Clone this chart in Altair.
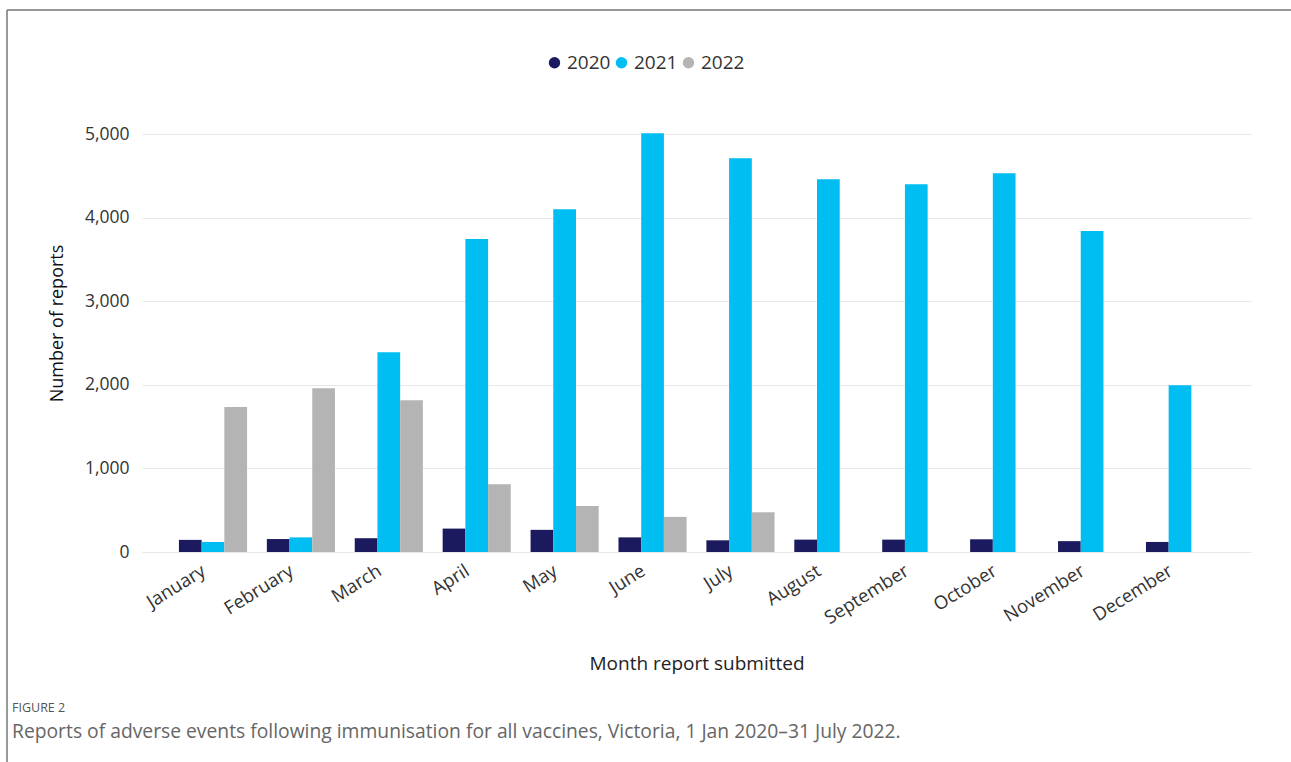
import altair as alt
import pandas as pd

months = ["January", "February", "March", "April", "May", "June", "July",
          "August", "September", "October", "November", "December"]
years = ["2020", "2021", "2022"]
v2020 = [145, 155, 165, 280, 265, 175, 140, 148, 148, 152, 130, 120]
v2021 = [120, 175, 2390, 3745, 4100, 5010, 4710, 4460, 4400, 4530, 3840, 1995]
v2022 = [1735, 1960, 1815, 810, 550, 420, 475]
colors = ["#1c1a5e", "#00bdf2", "#b4b4b4"]

rows = []
for yr, vals in zip(years, [v2020, v2021, v2022]):
    for m, v in zip(months, vals):
        rows.append({"Month": m, "Year": yr, "Reports": v})
df = pd.DataFrame(rows)

FONT = "Open Sans"
W, H = 1109, 418

bars = alt.Chart(df).mark_bar().encode(
    x=alt.X("Month:N", sort=months,
            scale=alt.Scale(paddingInner=0.225, paddingOuter=0.42),
            axis=alt.Axis(title="Month report submitted", labelAngle=-32,
                          labelAlign="right", labelBaseline="top",
                          labelPadding=9, labelOffset=-14, labelFontSize=18.5,
                          labelColor="#333333",
                          labelFont=FONT, titleFont=FONT, titleFontSize=19,
                          titleFontWeight="normal", titleColor="#222222",
                          titleY=111, titleBaseline="middle",
                          domain=False, ticks=False, grid=False)),
    xOffset=alt.XOffset("Year:N", sort=years, scale=alt.Scale(paddingInner=0, paddingOuter=0)),
    y=alt.Y("Reports:Q", scale=alt.Scale(domain=[0, 5000], nice=False),
            axis=alt.Axis(title="Number of reports", values=[0, 1000, 2000, 3000, 4000, 5000],
                          format=",.0f", labelFontSize=17.5, labelColor="#333333",
                          labelFont=FONT, labelPadding=13, titleFont=FONT,
                          titleFontSize=18, titleFontWeight="normal", titleColor="#111111",
                          titleX=-76, titleY=189, titleBaseline="bottom",
                          domain=False, ticks=False, gridColor="#e8e8e8", gridWidth=1)),
    color=alt.Color("Year:N", sort=years,
                    scale=alt.Scale(domain=years, range=colors),
                    legend=alt.Legend(title=None, orient="none", direction="horizontal",
                                      legendX=403, legendY=-81, symbolType="circle",
                                      symbolSize=130, symbolStrokeWidth=0,
                                      labelFont=FONT, labelFontSize=19, labelColor="#333333",
                                      labelOffset=3, columnPadding=1)),
)

deco = pd.DataFrame({"k": [0]})
top_rule = alt.Chart(deco).mark_rule(color="#777777", strokeWidth=1.5).encode(
    x=alt.value(-135), x2=alt.value(1160), y=alt.value(-124))
left_rule = alt.Chart(deco).mark_rule(color="#777777", strokeWidth=1.5).encode(
    x=alt.value(-135), y=alt.value(-124), y2=alt.value(640))

cap1 = alt.Chart(pd.DataFrame({"t": ["FIGURE 2"]})).mark_text(
    align="left", baseline="middle", font=FONT, fontSize=12.5, color="#555555").encode(
    x=alt.value(-130), y=alt.value(574), text="t:N")
cap2 = alt.Chart(pd.DataFrame({"t": ["Reports of adverse events following immunisation for all vaccines, Victoria, 1 Jan 2020\u201331 July 2022."]})).mark_text(
    align="left", baseline="middle", font=FONT, fontSize=19.3, color="#666666").encode(
    x=alt.value(-130), y=alt.value(598), text="t:N")

chart = alt.layer(bars, top_rule, left_rule, cap1, cap2).properties(
    width=W, height=H,
    autosize=alt.AutoSizeParams(type="none"),
    padding={"left": 142, "top": 134, "right": 40, "bottom": 210},
    background="white",
).configure_view(stroke=None)

chart.save("out.html", embed_options={"renderer": "svg", "actions": False})
